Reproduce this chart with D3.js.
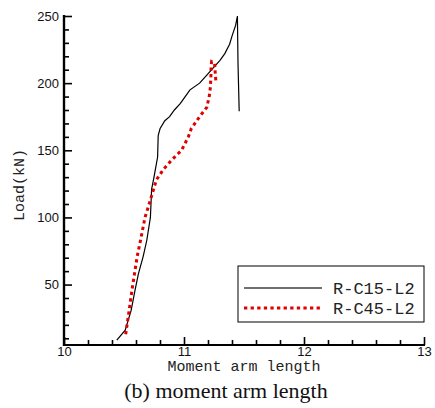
<!DOCTYPE html>
<html><head><meta charset="utf-8">
<script src="https://cdn.jsdelivr.net/npm/d3@7"></script>
<style>body{margin:0;background:#fff}svg{display:block}</style>
</head><body>
<script>
const seriesNames = ["R-C15-L2", "R-C45-L2"];
const c15X = [10.44,10.51,10.56,10.59,10.62,10.66,10.69,10.72,10.73,10.75,10.78,10.785,10.80,10.84,10.88,10.92,10.97,11.01,11.05,11.13,11.19,11.24,11.30,11.34,11.38,11.40,11.43,11.445,11.45,11.46];
const c15Y = [8.7,16,31,45,58,71,83,100,121,130,145,161,166,172,175,180,185,190,195,200,206,211,217,222,229,235,243,250,215,179];
const c45X = [10.514,10.54,10.57,10.61,10.64,10.675,10.72,10.77,10.83,10.90,10.98,11.036,11.06,11.13,11.19,11.21,11.22,11.225,11.225,11.23,11.255,11.26,11.267];
const c45Y = [13,29,48,71,84,100,113,128,136,143,150,160,166,175,182,190,197,207,212,216,215,208,200];
const xTicks = [10,11,12,13];
const yTicks = [50,100,150,200,250];
const xTitle = "Moment arm length";
const yTitle = "Load(kN)";
const caption = "(b) moment arm length";

const W=435,H=408;
const svg=d3.select("body").append("svg").attr("width",W).attr("height",H);
const x=d3.scaleLinear().domain([10,13]).range([64,424]);
const y=d3.scaleLinear().domain([5,250]).range([345,16]);

const xMinor=d3.range(10,13.0001,0.2).filter(v=>Math.abs(v-Math.round(v))>1e-6);
const yMinor=d3.range(10,250.001,10).filter(v=>v%50!==0);

const gx=svg.append("g").attr("transform","translate(0,345)");
gx.call(d3.axisBottom(x).tickValues(xTicks).tickSize(-8).tickPadding(2).tickFormat(d3.format("d")));
gx.append("g").call(d3.axisBottom(x).tickValues(xMinor).tickSize(-5).tickFormat(""));
const gy=svg.append("g").attr("transform","translate(64,0)");
gy.call(d3.axisLeft(y).tickValues(yTicks).tickSize(-8).tickPadding(5).tickFormat(d3.format("d")));
gy.append("g").call(d3.axisLeft(y).tickValues(yMinor).tickSize(-5).tickFormat(""));
svg.selectAll(".domain").attr("stroke","#000").attr("stroke-width",2.2);
gx.selectAll(".domain").attr("d","M63,0H425");
gy.selectAll(".domain").attr("d","M0,15V346");
svg.selectAll(".tick line").attr("stroke","#000").attr("stroke-width",1.6);
svg.selectAll(".tick text").attr("font-family","Liberation Sans, Arial, sans-serif").attr("font-size",13).attr("fill","#111");

const line=d3.line().x(d=>x(d[0])).y(d=>y(d[1]));
const d15=c15X.map((v,i)=>[v,c15Y[i]]);
const d45=c45X.map((v,i)=>[v,c45Y[i]]);
svg.append("path").attr("d",line(d15)).attr("fill","none").attr("stroke","#000").attr("stroke-width",1.2);
svg.append("path").attr("d",line(d45)).attr("fill","none").attr("stroke","#e00000").attr("stroke-width",3).attr("stroke-dasharray","3.3,3.3");

svg.append("text").attr("x",244).attr("y",371).attr("text-anchor","middle")
  .attr("font-family","Liberation Mono, Courier New, monospace").attr("font-size",15).attr("fill","#222").text(xTitle);
svg.append("text").attr("transform","translate(24,185) rotate(-90)").attr("text-anchor","middle")
  .attr("font-family","Liberation Mono, Courier New, monospace").attr("font-size",15).attr("fill","#222").text(yTitle);
svg.append("text").attr("x",226).attr("y",398).attr("text-anchor","middle")
  .attr("font-family","Liberation Serif, Times New Roman, serif").attr("font-size",22).attr("fill","#111").text(caption);

const lg=svg.append("g");
lg.append("rect").attr("x",238).attr("y",266).attr("width",186).attr("height",56).attr("fill","#fff").attr("stroke","#000").attr("stroke-width",1);
lg.append("line").attr("x1",244).attr("x2",322).attr("y1",288).attr("y2",288).attr("stroke","#707070").attr("stroke-width",2);
lg.append("line").attr("x1",244).attr("x2",322).attr("y1",308).attr("y2",308).attr("stroke","#e00000").attr("stroke-width",3).attr("stroke-dasharray","3.3,3.3");
lg.selectAll("text.lt").data(seriesNames).enter().append("text").attr("class","lt")
  .attr("x",333).attr("y",(d,i)=>294+i*20)
  .attr("font-family","Liberation Mono, Courier New, monospace").attr("font-size",17).attr("fill","#222").text(d=>d);
</script>
</body></html>
